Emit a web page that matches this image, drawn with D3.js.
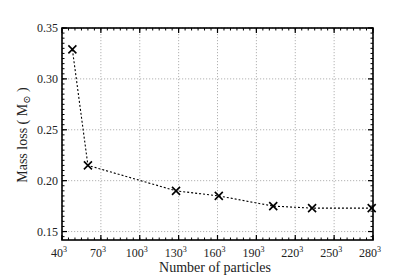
<!DOCTYPE html>
<head>
    <script src="https://d3js.org/d3.v7.min.js"></script>
    <style>
        body { margin: 0; background: #fff; }
        .grid line { stroke: #aaa; stroke-dasharray: 1.2,1.8; stroke-width: 0.9; }
    </style>
</head>
<body>
    <svg id="chart" width="415" height="277"></svg>
    <script>
        // particle counts (cube root) and mass loss in solar masses
        var particles = [48, 60, 128, 161, 203, 233, 279];
        var massLoss = [0.329, 0.215, 0.190, 0.185, 0.175, 0.173, 0.173];
        var xTicks = [40, 70, 100, 130, 160, 190, 220, 250, 280];
        var yTicks = [0.15, 0.20, 0.25, 0.30, 0.35];

        var FONT = "Liberation Serif, DejaVu Serif, serif";
        var svg = d3.select("#chart");
        var pl = 62, pr = 373, pt = 28, pb = 240;

        var x = d3.scaleLinear().domain([40, 280]).range([pl, pr]);
        var y = d3.scaleLinear().domain([0.1417, 0.35]).range([pb, pt]);

        // grid
        var grid = svg.append("g").attr("class", "grid");
        grid.selectAll(".gx").data(xTicks).enter().append("line")
            .attr("x1", d => x(d)).attr("x2", d => x(d))
            .attr("y1", pt).attr("y2", pb);
        grid.selectAll(".gy").data(yTicks).enter().append("line")
            .attr("x1", pl).attr("x2", pr)
            .attr("y1", d => y(d)).attr("y2", d => y(d));

        // ticks on all four sides, pointing inward
        var xMinor = d3.range(40, 281, 5);
        var yMinor = d3.range(0.145, 0.3501, 0.005);
        var ticks = svg.append("g").attr("stroke", "#000");
        function tickSet(vals, len, isX, width) {
            vals.forEach(function (v) {
                if (isX) {
                    ticks.append("line").attr("x1", x(v)).attr("x2", x(v))
                        .attr("y1", pb).attr("y2", pb - len).attr("stroke-width", width);
                    ticks.append("line").attr("x1", x(v)).attr("x2", x(v))
                        .attr("y1", pt).attr("y2", pt + len).attr("stroke-width", width);
                } else {
                    ticks.append("line").attr("y1", y(v)).attr("y2", y(v))
                        .attr("x1", pl).attr("x2", pl + len).attr("stroke-width", width);
                    ticks.append("line").attr("y1", y(v)).attr("y2", y(v))
                        .attr("x1", pr).attr("x2", pr - len).attr("stroke-width", width);
                }
            });
        }
        tickSet(xMinor, 2.5, true, 1);
        tickSet(yMinor, 2.5, false, 1);
        tickSet(xTicks, 5, true, 1.2);
        tickSet(yTicks, 5, false, 1.2);

        // frame
        svg.append("rect").attr("x", pl).attr("y", pt)
            .attr("width", pr - pl).attr("height", pb - pt)
            .attr("fill", "none").attr("stroke", "#000").attr("stroke-width", 1.6);

        // tick labels
        var xl = svg.selectAll(".xl").data(xTicks).enter().append("text")
            .attr("font-family", FONT).attr("font-size", 12).attr("fill", "#222")
            .attr("x", d => x(d) - 3).attr("y", 257)
            .attr("text-anchor", "middle");
        xl.append("tspan").text(d => d);
        xl.append("tspan").attr("dy", -5).attr("font-size", 8).text("3");

        svg.selectAll(".yl").data(yTicks).enter().append("text")
            .attr("font-family", FONT).attr("font-size", 12).attr("fill", "#222")
            .attr("x", 58).attr("y", d => y(d) + 4)
            .attr("text-anchor", "end").text(d => d.toFixed(2));

        // axis titles
        svg.append("text").attr("font-family", FONT).attr("fill", "#222")
            .attr("x", 215).attr("y", 272)
            .attr("text-anchor", "middle").attr("font-size", 14).text("Number of particles");
        var yt = svg.append("text").attr("font-family", FONT).attr("fill", "#222")
            .attr("transform", "translate(27,135) rotate(-90)")
            .attr("text-anchor", "middle").attr("font-size", 14);
        yt.append("tspan").text("Mass loss ( M");
        yt.append("tspan").attr("dy", 3).attr("font-size", 10).text("\u2299");
        yt.append("tspan").attr("dy", -3).text(" )");

        // data line
        var pts = particles.map((p, i) => [p, massLoss[i]]);
        svg.append("path").datum(pts)
            .attr("d", d3.line().x(d => x(d[0])).y(d => y(d[1])))
            .attr("fill", "none").attr("stroke", "#000").attr("stroke-width", 1.1)
            .attr("stroke-dasharray", "2,2");

        // x markers
        var s = 4;
        svg.selectAll(".m").data(pts).enter().append("path")
            .attr("d", d => {
                var cx = x(d[0]), cy = y(d[1]);
                return "M" + (cx - s) + "," + (cy - s) + "L" + (cx + s) + "," + (cy + s) +
                    "M" + (cx - s) + "," + (cy + s) + "L" + (cx + s) + "," + (cy - s);
            })
            .attr("stroke", "#000").attr("stroke-width", 1.6);
    </script>
</body>
